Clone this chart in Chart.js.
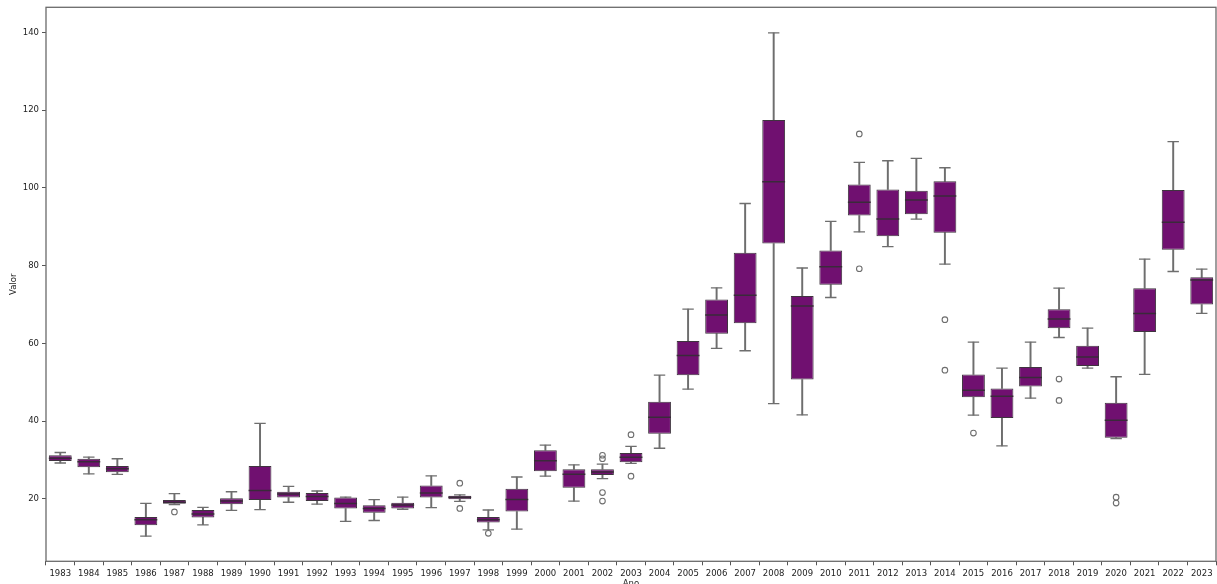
<!DOCTYPE html>
<html>
<head>
<meta charset="utf-8">
<script src="https://cdn.jsdelivr.net/npm/chart.js@4/dist/chart.umd.min.js"></script>
<style>
  html, body { margin: 0; padding: 0; background: #ffffff; }
  canvas { display: block; }
</style>
</head>
<body>
<canvas id="chart" width="1217" height="584"></canvas>
<script>
// Yearly distribution of "Valor": five-number summaries per year
const years = ['1983','1984','1985','1986','1987','1988','1989','1990','1991','1992',
  '1993','1994','1995','1996','1997','1998','1999','2000','2001','2002','2003','2004',
  '2005','2006','2007','2008','2009','2010','2011','2012','2013','2014','2015','2016',
  '2017','2018','2019','2020','2021','2022','2023'];

const whiskerLow = [29.2, 26.4, 26.3, 10.4, 18.5, 13.3, 17.0, 17.2, 19.1, 18.6,
  14.2, 14.4, 17.3, 17.7, 19.3, 12.0, 12.2, 25.8, 19.4, 25.2, 29.1, 33.0,
  48.2, 58.7, 58.1, 44.5, 41.6, 71.8, 88.7, 84.9, 92.0, 80.4, 41.5, 33.6,
  45.9, 61.5, 53.6, 35.5, 52.0, 78.5, 67.7];

const quartile1 = [29.7, 28.1, 26.8, 13.2, 18.7, 15.2, 18.6, 19.7, 20.3, 19.4,
  17.5, 16.4, 17.5, 20.3, 19.9, 13.9, 16.7, 27.1, 22.8, 26.1, 29.4, 36.7,
  51.8, 62.5, 65.2, 85.7, 50.7, 75.1, 92.9, 87.6, 93.2, 88.5, 46.1, 40.8,
  48.9, 63.9, 54.2, 35.7, 62.9, 84.1, 70.0];

const medians = [30.4, 29.5, 27.7, 14.6, 19.1, 16.1, 19.4, 22.1, 21.2, 20.6,
  18.8, 17.5, 18.4, 21.5, 20.4, 14.6, 19.8, 29.8, 26.3, 26.9, 30.7, 41.0,
  56.9, 67.3, 72.4, 101.6, 69.6, 79.7, 96.3, 92.0, 96.9, 97.9, 47.9, 46.4,
  51.2, 66.3, 56.5, 40.2, 67.7, 91.2, 76.3];

const quartile3 = [31.2, 30.3, 28.4, 15.3, 19.7, 17.1, 20.1, 28.4, 21.8, 21.5,
  20.3, 18.3, 19.0, 23.4, 20.8, 15.3, 22.6, 32.5, 27.6, 27.6, 31.8, 45.0,
  60.6, 71.3, 83.3, 117.5, 72.2, 83.9, 100.9, 99.6, 99.3, 101.7, 52.0, 48.4,
  53.9, 68.8, 59.4, 44.7, 74.2, 99.5, 77.0];

const whiskerHigh = [31.9, 30.7, 30.3, 18.8, 21.3, 17.8, 21.8, 39.4, 23.2, 22.0,
  20.4, 19.8, 20.4, 25.9, 21.0, 17.1, 25.6, 33.8, 28.7, 28.9, 33.5, 51.8,
  68.8, 74.3, 96.0, 139.9, 79.4, 91.4, 106.6, 107.0, 107.6, 105.2, 60.3, 53.6,
  60.3, 74.2, 63.9, 51.4, 81.7, 111.9, 79.1];

const outlierYears  = ['1987','1997','1997','1998','2002','2002','2002','2002','2003','2003',
  '2011','2011','2014','2014','2015','2018','2018','2020','2020'];
const outlierValues = [16.6, 24.0, 17.5, 11.1, 31.2, 30.3, 21.6, 19.4, 36.5, 25.8,
  113.9, 79.2, 66.1, 53.1, 36.9, 50.8, 45.3, 20.4, 18.9];

const yTickValues = [20, 40, 60, 80, 100, 120, 140];

const BOX_FILL = '#701070';
const BOX_EDGE = '#3f343f';
const WHISKER = '#6e6e6e';
const FONT = { family: 'DejaVu Sans', size: 8.5 };

const boxWidthPx = (ctx) => {
  const x = ctx.chart.scales.x;
  return x.width / years.length * 0.8;
};

// Outer frame around the plotting area
const framePlugin = {
  id: 'frame',
  afterDatasetsDraw(chart) {
    const { ctx, chartArea: a } = chart;
    ctx.save();
    ctx.strokeStyle = '#6a6a6a';
    ctx.lineWidth = 1.3;
    ctx.strokeRect(a.left, a.top, a.right - a.left, a.bottom - a.top);
    ctx.restore();
  }
};

new Chart(document.getElementById('chart'), {
  data: {
    labels: years,
    datasets: [
      {
        type: 'line', label: 'outliers', order: 0,
        data: outlierYears.map((y, i) => ({ x: y, y: outlierValues[i] })),
        showLine: false, pointStyle: 'circle', pointRadius: 2.8,
        pointBorderWidth: 1.1, pointBorderColor: WHISKER,
        pointBackgroundColor: 'rgba(0,0,0,0)'
      },
      {
        type: 'line', label: 'median', order: 1,
        data: medians, showLine: false, pointStyle: 'line',
        pointRadius: (ctx) => boxWidthPx(ctx) / 2,
        pointBorderWidth: 1.5, pointBorderColor: '#3a2a3a'
      },
      {
        type: 'line', label: 'capHigh', order: 2,
        data: whiskerHigh, showLine: false, pointStyle: 'line',
        pointRadius: (ctx) => boxWidthPx(ctx) / 4,
        pointBorderWidth: 1.3, pointBorderColor: WHISKER
      },
      {
        type: 'line', label: 'capLow', order: 2,
        data: whiskerLow, showLine: false, pointStyle: 'line',
        pointRadius: (ctx) => boxWidthPx(ctx) / 4,
        pointBorderWidth: 1.3, pointBorderColor: WHISKER
      },
      {
        type: 'bar', label: 'box', order: 3, grouped: false,
        data: quartile1.map((q, i) => [q, quartile3[i]]),
        backgroundColor: BOX_FILL, borderColor: BOX_EDGE, borderWidth: 1,
        borderSkipped: false,
        categoryPercentage: 1, barPercentage: 0.8
      },
      {
        type: 'bar', label: 'whiskerLow', order: 4, grouped: false,
        data: whiskerLow.map((w, i) => [w, quartile1[i]]),
        backgroundColor: WHISKER, barThickness: 1.3
      },
      {
        type: 'bar', label: 'whiskerHigh', order: 4, grouped: false,
        data: quartile3.map((q, i) => [q, whiskerHigh[i]]),
        backgroundColor: WHISKER, barThickness: 1.3
      }
    ]
  },
  options: {
    responsive: false,
    animation: false,
    devicePixelRatio: 1,
    layout: { autoPadding: false, padding: { top: 7.3, right: 1, left: 0, bottom: 0 } },
    plugins: {
      legend: { display: false },
      tooltip: { enabled: false },
      title: { display: false }
    },
    scales: {
      x: {
        type: 'category',
        offset: true,
        grid: { display: true, drawOnChartArea: false, drawTicks: true, tickLength: 4, color: '#555' },
        border: { display: false },
        ticks: { color: '#222', font: FONT, padding: 3, maxRotation: 0, autoSkip: false },
        title: { display: true, text: 'Ano', color: '#222', font: FONT, padding: { top: 0, bottom: -4.6 } },
        afterFit: (s) => { s.height = 22.7; s.paddingLeft = 0; s.paddingRight = 0; }
      },
      y: {
        type: 'linear',
        min: 3.9, max: 146.5,
        grid: { display: true, drawOnChartArea: false, drawTicks: true, tickLength: 4, color: '#555' },
        border: { display: false },
        ticks: { color: '#222', font: FONT, padding: 3 },
        afterBuildTicks: (s) => { s.ticks = yTickValues.map(v => ({ value: v })); },
        title: { display: true, text: 'Valor', color: '#222', font: FONT, padding: { top: 8.9, bottom: 0 } },
        afterFit: (s) => { s.width = 46; s.paddingTop = 0; s.paddingBottom = 0; }
      }
    }
  },
  plugins: [framePlugin]
});
</script>
</body>
</html>
